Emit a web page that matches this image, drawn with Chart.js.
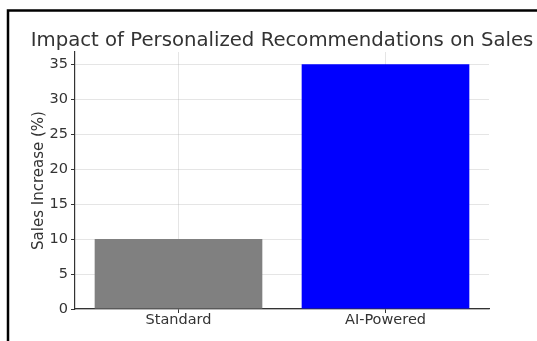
<!DOCTYPE html>
<html>
<head>
<meta charset="utf-8">
<script src="https://cdn.jsdelivr.net/npm/chart.js@4/dist/chart.umd.min.js"></script>
<style>
  html, body { margin: 0; padding: 0; background: #fff; }
  #wrap { width: 537px; height: 341px; position: relative; }
</style>
</head>
<body>
<div id="wrap"><canvas id="chart"></canvas></div>
<script>
// Sales uplift by recommendation approach
const categories = ['Standard', 'AI-Powered'];
const salesIncrease = [10, 35];
const barColors = ['#808080', '#0000ff'];
const yTicks = [0, 5, 10, 15, 20, 25, 30, 35];
const chartTitle = 'Impact of Personalized Recommendations on Sales';

const FONT = "'DejaVu Sans', sans-serif";

// white page with a black frame along the left and top edges
const framePlugin = {
  id: 'frame',
  beforeDraw(chart) {
    const ctx = chart.ctx;
    ctx.save();
    ctx.fillStyle = '#fff';
    ctx.fillRect(0, 0, chart.width, chart.height);
    ctx.strokeStyle = '#000';
    ctx.lineWidth = 2.5;
    ctx.beginPath();
    ctx.moveTo(8, chart.height);
    ctx.lineTo(8, 10.5);
    ctx.lineTo(chart.width, 10.5);
    ctx.stroke();
    ctx.restore();
  }
};

// title centred over the plot area, allowed to run wider than it
const titlePlugin = {
  id: 'wideTitle',
  afterDraw(chart) {
    const { ctx, chartArea } = chart;
    ctx.save();
    ctx.fillStyle = '#333';
    ctx.font = `19.7px ${FONT}`;
    ctx.textAlign = 'center';
    ctx.textBaseline = 'alphabetic';
    ctx.fillText(chartTitle, (chartArea.left + chartArea.right) / 2, 45.5);
    ctx.restore();
  }
};

const gridColor = 'rgba(170,170,170,0.3)';

new Chart(document.getElementById('chart'), {
  type: 'bar',
  data: {
    labels: categories,
    datasets: [{
      data: salesIncrease,
      backgroundColor: barColors,
      borderWidth: 0,
      barPercentage: 0.81,
      categoryPercentage: 1.0
    }]
  },
  options: {
    responsive: true,
    maintainAspectRatio: false,
    animation: false,
    devicePixelRatio: 1,
    layout: { padding: { left: 0, right: 48, top: 52, bottom: 0 } },
    plugins: {
      legend: { display: false },
      tooltip: { enabled: false },
      title: { display: false }
    },
    scales: {
      x: {
        z: 1,
        offset: true,
        afterFit(scale) { scale.height = 32; },
        grid: {
          offset: false,
          color: gridColor,
          tickColor: '#333',
          tickLength: 4,
          drawTicks: true
        },
        border: { display: true, color: '#333', width: 1.2 },
        ticks: {
          color: '#333',
          padding: -1,
          font: { family: FONT, size: 14.5 }
        }
      },
      y: {
        z: 1,
        min: 0,
        max: 36.75,
        afterFit(scale) { scale.width = 75; },
        afterBuildTicks(scale) {
          scale.ticks = yTicks.map(v => ({ value: v }));
        },
        grid: {
          color: gridColor,
          tickColor: '#333',
          tickLength: 4
        },
        border: { display: true, color: '#333', width: 1.2 },
        ticks: {
          color: '#333',
          padding: 3,
          font: { family: FONT, size: 14.5 }
        },
        title: {
          display: true,
          text: 'Sales Increase (%)',
          color: '#333',
          font: { family: FONT, size: 15 },
          padding: { top: 30, bottom: 0 }
        }
      }
    }
  },
  plugins: [framePlugin, titlePlugin]
});
</script>
</body>
</html>
